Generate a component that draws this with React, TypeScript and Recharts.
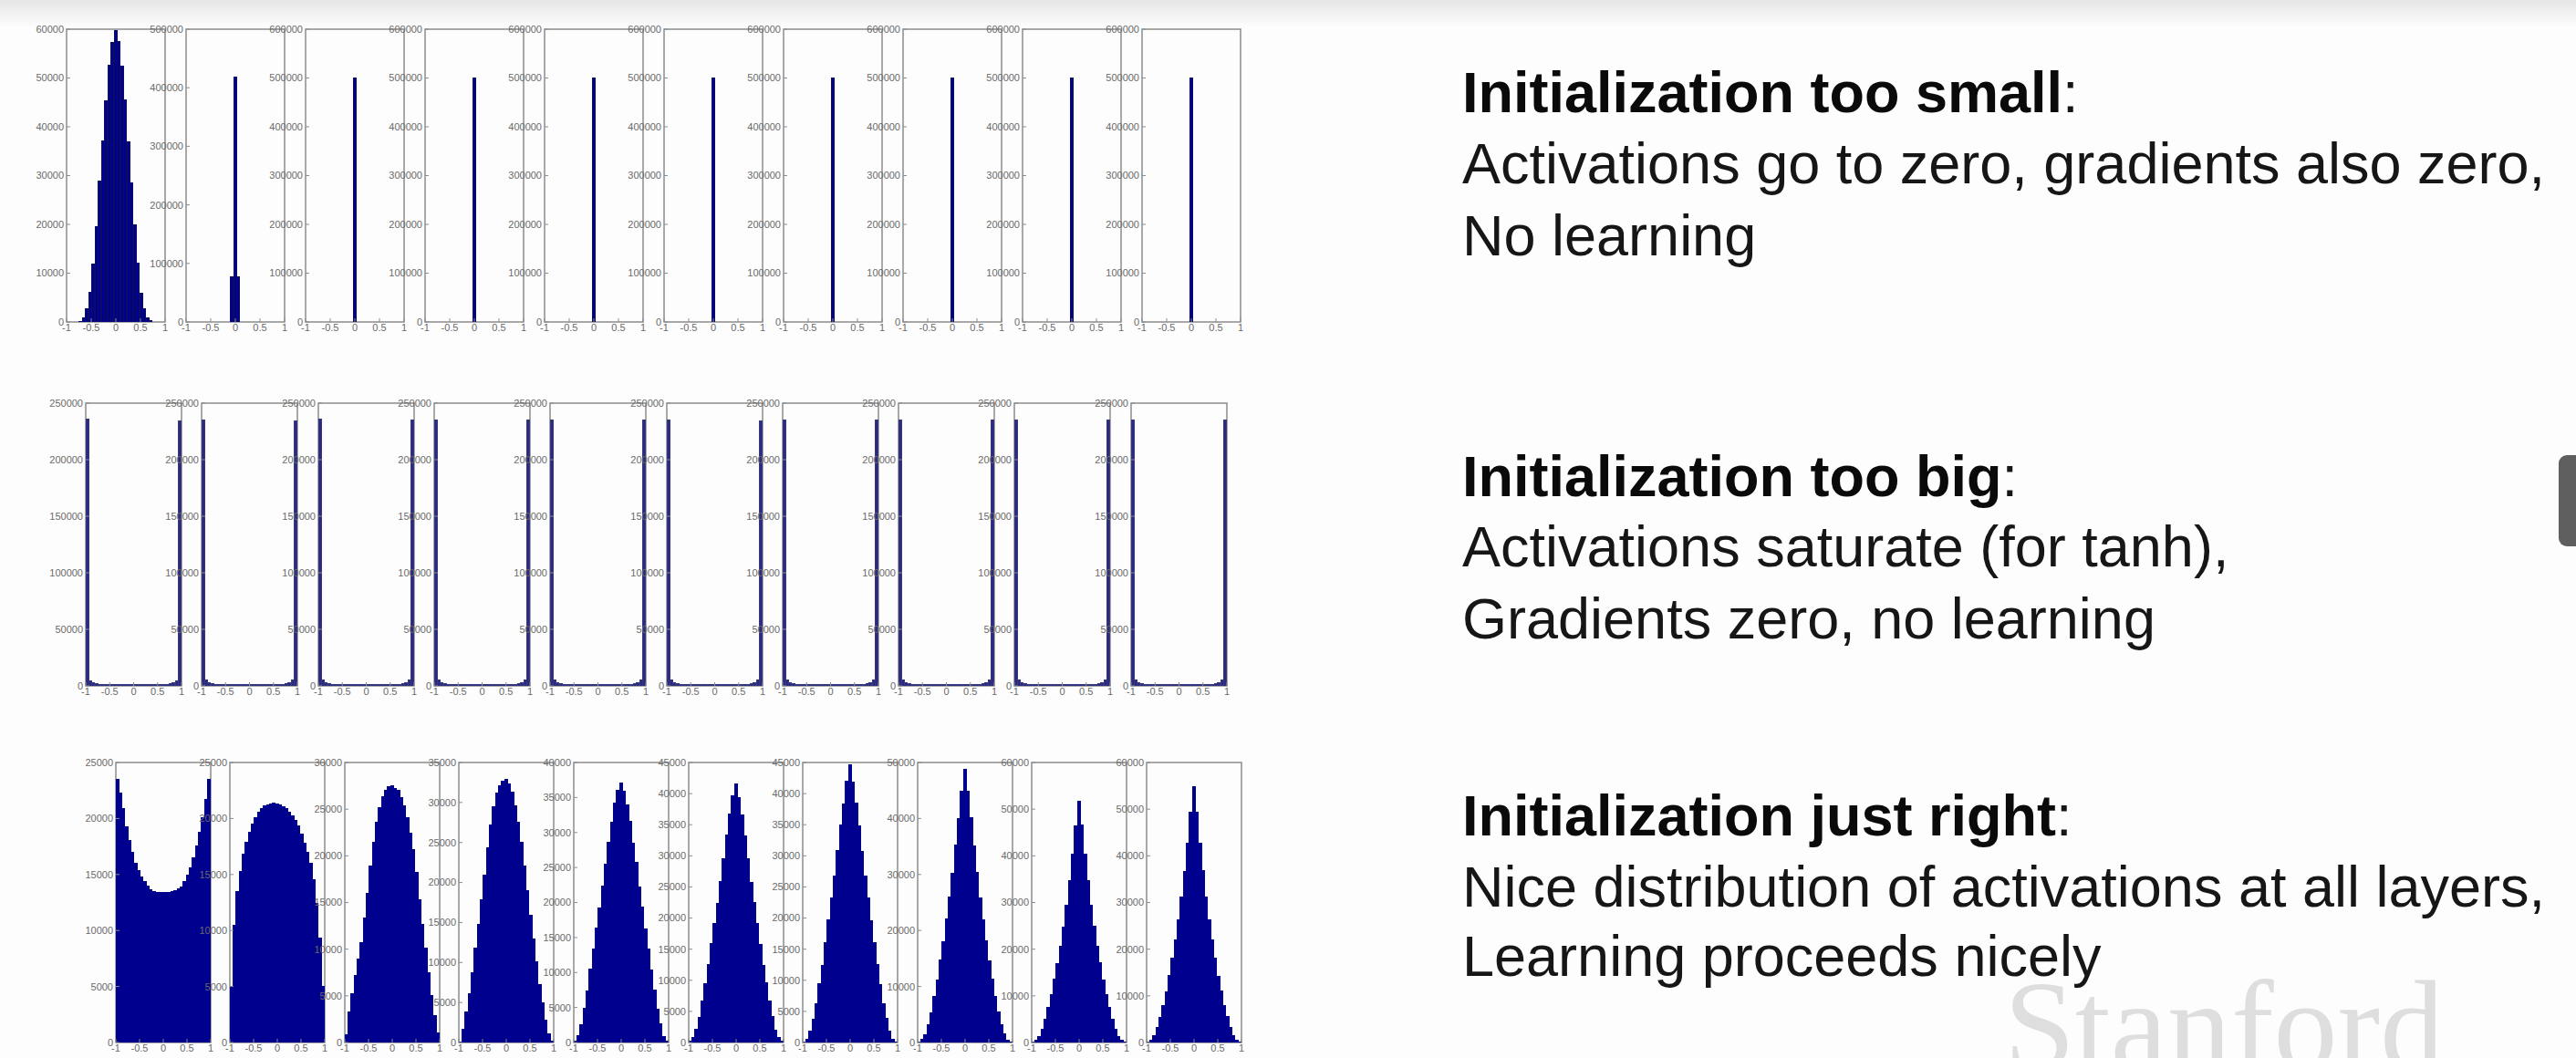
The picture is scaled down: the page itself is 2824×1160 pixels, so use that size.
import React from 'react';
import { BarChart, Bar, XAxis, YAxis, ReferenceArea } from 'recharts';

// 31 histogram bins over [-1, 1] (bin centres)
const BIN_CENTERS = [
  -0.9677, -0.9032, -0.8387, -0.7742, -0.7097, -0.6452, -0.5806, -0.5161, -0.4516, -0.3871, -0.3226,
  -0.2581, -0.1935, -0.129, -0.0645, 0, 0.0645, 0.129, 0.1935, 0.2581, 0.3226, 0.3871, 0.4516, 0.5161,
  0.5806, 0.6452, 0.7097, 0.7742, 0.8387, 0.9032, 0.9677,
];
const X_TICKS = [-1, -0.5, 0, 0.5, 1];

// ---------- y tick sets ----------
const T_60K = [0, 10000, 20000, 30000, 40000, 50000, 60000];
const T_500K = [0, 100000, 200000, 300000, 400000, 500000];
const T_600K = [0, 100000, 200000, 300000, 400000, 500000, 600000];
const T_250K = [0, 50000, 100000, 150000, 200000, 250000];
const T_25K = [0, 5000, 10000, 15000, 20000, 25000];
const T_30K = [0, 5000, 10000, 15000, 20000, 25000, 30000];
const T_35K = [0, 5000, 10000, 15000, 20000, 25000, 30000, 35000];
const T_40K = [0, 5000, 10000, 15000, 20000, 25000, 30000, 35000, 40000];
const T_45K = [0, 5000, 10000, 15000, 20000, 25000, 30000, 35000, 40000, 45000];
const T_50K = [0, 10000, 20000, 30000, 40000, 50000];
const T_60KB = [0, 10000, 20000, 30000, 40000, 50000, 60000];

// ---------- Row 1: initialization too small ----------
const R1_L1 = [0, 0, 0, 0, 170, 820, 2650, 6100, 11800, 19500, 28900, 37100, 45300, 52600, 57200, 59700, 57400, 52400, 45500, 36900, 28500, 19900, 12000, 5900, 2750, 860, 190, 0, 0, 0, 0];
const R1_L2 = [0, 0, 0, 0, 0, 0, 0, 0, 0, 0, 0, 0, 0, 0, 77000, 418000, 77000, 0, 0, 0, 0, 0, 0, 0, 0, 0, 0, 0, 0, 0, 0];
const R1_L3 = [0, 0, 0, 0, 0, 0, 0, 0, 0, 0, 0, 0, 0, 0, 0, 500000, 0, 0, 0, 0, 0, 0, 0, 0, 0, 0, 0, 0, 0, 0, 0];
const R1_L4 = [0, 0, 0, 0, 0, 0, 0, 0, 0, 0, 0, 0, 0, 0, 0, 500000, 0, 0, 0, 0, 0, 0, 0, 0, 0, 0, 0, 0, 0, 0, 0];
const R1_L5 = [0, 0, 0, 0, 0, 0, 0, 0, 0, 0, 0, 0, 0, 0, 0, 500000, 0, 0, 0, 0, 0, 0, 0, 0, 0, 0, 0, 0, 0, 0, 0];
const R1_L6 = [0, 0, 0, 0, 0, 0, 0, 0, 0, 0, 0, 0, 0, 0, 0, 500000, 0, 0, 0, 0, 0, 0, 0, 0, 0, 0, 0, 0, 0, 0, 0];
const R1_L7 = [0, 0, 0, 0, 0, 0, 0, 0, 0, 0, 0, 0, 0, 0, 0, 500000, 0, 0, 0, 0, 0, 0, 0, 0, 0, 0, 0, 0, 0, 0, 0];
const R1_L8 = [0, 0, 0, 0, 0, 0, 0, 0, 0, 0, 0, 0, 0, 0, 0, 500000, 0, 0, 0, 0, 0, 0, 0, 0, 0, 0, 0, 0, 0, 0, 0];
const R1_L9 = [0, 0, 0, 0, 0, 0, 0, 0, 0, 0, 0, 0, 0, 0, 0, 500000, 0, 0, 0, 0, 0, 0, 0, 0, 0, 0, 0, 0, 0, 0, 0];
const R1_L10 = [0, 0, 0, 0, 0, 0, 0, 0, 0, 0, 0, 0, 0, 0, 0, 500000, 0, 0, 0, 0, 0, 0, 0, 0, 0, 0, 0, 0, 0, 0, 0];

// ---------- Row 2: initialization too big (saturated) ----------
const R2_L1 = [236000, 4800, 2700, 1900, 1500, 1300, 1200, 1100, 1050, 1000, 980, 950, 930, 920, 910, 900, 910, 920, 930, 950, 980, 1000, 1050, 1100, 1200, 1300, 1500, 1900, 2700, 4800, 234000];
const R2_L2 = [235000, 5200, 2900, 2000, 1600, 1350, 1200, 1120, 1060, 1010, 980, 960, 940, 930, 920, 915, 920, 930, 940, 960, 980, 1010, 1060, 1120, 1200, 1350, 1600, 2000, 2900, 5200, 234500];
const R2_L3 = [235500, 5000, 2800, 1950, 1550, 1320, 1180, 1100, 1040, 1000, 970, 950, 930, 920, 910, 905, 910, 920, 930, 950, 970, 1000, 1040, 1100, 1180, 1320, 1550, 1950, 2800, 5000, 235000];
const R2_L4 = [235200, 5100, 2850, 1980, 1570, 1330, 1190, 1110, 1050, 1005, 975, 955, 935, 925, 915, 910, 915, 925, 935, 955, 975, 1005, 1050, 1110, 1190, 1330, 1570, 1980, 2850, 5100, 234800];
const R2_L5 = [234900, 5000, 2800, 1960, 1560, 1320, 1190, 1100, 1045, 1000, 970, 950, 930, 920, 910, 905, 910, 920, 930, 950, 970, 1000, 1045, 1100, 1190, 1320, 1560, 1960, 2800, 5000, 235300];
const R2_L6 = [235400, 5150, 2870, 1990, 1580, 1340, 1200, 1110, 1050, 1010, 980, 955, 935, 925, 915, 910, 915, 925, 935, 955, 980, 1010, 1050, 1110, 1200, 1340, 1580, 1990, 2870, 5150, 234600];
const R2_L7 = [235100, 5050, 2820, 1970, 1560, 1330, 1190, 1105, 1045, 1000, 972, 952, 932, 922, 912, 906, 912, 922, 932, 952, 972, 1000, 1045, 1105, 1190, 1330, 1560, 1970, 2820, 5050, 235000];
const R2_L8 = [234800, 5100, 2840, 1975, 1565, 1335, 1195, 1108, 1048, 1004, 974, 954, 934, 924, 914, 908, 914, 924, 934, 954, 974, 1004, 1048, 1108, 1195, 1335, 1565, 1975, 2840, 5100, 235200];
const R2_L9 = [235300, 5000, 2800, 1960, 1555, 1325, 1185, 1102, 1042, 1000, 970, 950, 930, 920, 910, 904, 910, 920, 930, 950, 970, 1000, 1042, 1102, 1185, 1325, 1555, 1960, 2800, 5000, 234900];
const R2_L10 = [235000, 5080, 2830, 1970, 1560, 1330, 1190, 1106, 1046, 1002, 972, 952, 932, 922, 912, 906, 912, 922, 932, 952, 972, 1002, 1046, 1106, 1190, 1330, 1560, 1970, 2830, 5080, 235100];

// ---------- Row 3: initialization just right ----------
const R3_L1 = [23500, 22280, 20920, 19290, 18070, 16980, 16030, 15350, 14810, 14400, 13990, 13670, 13480, 13400, 13370, 13370, 13370, 13400, 13480, 13590, 13720, 13910, 14400, 14950, 15630, 16520, 17530, 18750, 20110, 21740, 23500];
const R3_L2 = [5000, 10500, 13500, 15300, 16800, 17900, 18800, 19500, 20100, 20550, 20900, 21100, 21250, 21330, 21360, 21330, 21250, 21080, 20860, 20580, 20250, 19850, 19300, 18600, 17800, 17000, 16000, 14500, 12400, 9300, 5000];
const R3_L3 = [810, 3250, 5200, 7160, 8950, 10740, 13340, 15940, 18870, 21470, 23590, 25210, 26350, 27000, 27400, 27490, 27260, 27000, 26190, 25380, 24080, 22450, 20660, 18220, 15290, 12690, 10090, 7480, 5040, 2930, 980];
const R3_L4 = [80, 1710, 3800, 6070, 8730, 11770, 14800, 17840, 20880, 24290, 27140, 29420, 31130, 32080, 32650, 32840, 32270, 31320, 29610, 27520, 25050, 22020, 18980, 15940, 12910, 10060, 7210, 4930, 2850, 1140, 190];
const R3_L5 = [180, 950, 2550, 4900, 7350, 10450, 13300, 16400, 19200, 22300, 25500, 28600, 31500, 34200, 36000, 37100, 35900, 34000, 31600, 28500, 25700, 22200, 19300, 16200, 13400, 10300, 7500, 4750, 2650, 900, 200];
const R3_L6 = [160, 760, 2100, 4100, 6700, 9500, 12500, 15900, 19100, 22400, 25800, 29600, 33300, 36700, 39600, 41600, 39400, 36500, 33200, 29500, 25700, 22500, 19200, 15700, 12400, 9600, 6600, 4200, 2050, 740, 180];
const R3_L7 = [130, 550, 1800, 3750, 6300, 9400, 12450, 16100, 19700, 23200, 26800, 30800, 34900, 38300, 42000, 44650, 41900, 38500, 34800, 30700, 26800, 23300, 19600, 16000, 12500, 9350, 6250, 3850, 1780, 530, 140];
const R3_L8 = [100, 500, 1450, 3200, 5350, 8250, 11200, 14700, 18000, 22000, 25900, 30200, 35200, 40000, 44900, 48800, 44800, 40100, 35100, 30300, 25800, 21900, 18100, 14600, 11250, 8300, 5400, 3150, 1470, 480, 110];
const R3_L9 = [100, 420, 1300, 2850, 4900, 7450, 10300, 13500, 17000, 20700, 24800, 29500, 34600, 40300, 46500, 51700, 46600, 40300, 34700, 29400, 24900, 20600, 17100, 13400, 10350, 7500, 4900, 2830, 1300, 400, 100];
const R3_L10 = [110, 500, 1520, 3300, 5450, 7950, 10900, 14300, 18100, 21900, 26300, 31200, 36700, 42800, 49300, 54800, 49300, 42700, 36800, 31200, 26300, 21900, 18050, 14250, 10950, 7950, 5500, 3280, 1540, 480, 120];

const ROW1_SERIES = [R1_L1, R1_L2, R1_L3, R1_L4, R1_L5, R1_L6, R1_L7, R1_L8, R1_L9, R1_L10];
const ROW1_TICKS = [T_60K, T_500K, T_600K, T_600K, T_600K, T_600K, T_600K, T_600K, T_600K, T_600K];
const ROW2_SERIES = [R2_L1, R2_L2, R2_L3, R2_L4, R2_L5, R2_L6, R2_L7, R2_L8, R2_L9, R2_L10];
const ROW2_TICKS = [T_250K, T_250K, T_250K, T_250K, T_250K, T_250K, T_250K, T_250K, T_250K, T_250K];
const ROW3_SERIES = [R3_L1, R3_L2, R3_L3, R3_L4, R3_L5, R3_L6, R3_L7, R3_L8, R3_L9, R3_L10];
const ROW3_TICKS = [T_25K, T_25K, T_30K, T_35K, T_40K, T_45K, T_45K, T_50K, T_60KB, T_60KB];

const NOTES = [
  { bold: 'Initialization too small', rest: ':', y: 123 },
  { bold: '', rest: 'Activations go to zero, gradients also zero,', y: 201 },
  { bold: '', rest: 'No learning', y: 280 },
  { bold: 'Initialization too big', rest: ':', y: 544 },
  { bold: '', rest: 'Activations saturate (for tanh),', y: 621 },
  { bold: '', rest: 'Gradients zero, no learning', y: 700 },
  { bold: 'Initialization just right', rest: ':', y: 916 },
  { bold: '', rest: 'Nice distribution of activations at all layers,', y: 994 },
  { bold: '', rest: 'Learning proceeds nicely', y: 1070 },
];

// ---------- layout ----------
const ROWS = [
  { top: 32, height: 321, left0: 73, pitch: 131, width: 108, fill: '#00008F', stroke: '#0c0c62', series: ROW1_SERIES, ticks: ROW1_TICKS },
  { top: 442, height: 310, left0: 94, pitch: 127.3, width: 105, fill: '#2a2a7e', stroke: '#383882', series: ROW2_SERIES, ticks: ROW2_TICKS },
  { top: 836, height: 307, left0: 126.5, pitch: 125.6, width: 104, fill: '#00008F', stroke: '#00008F', series: ROW3_SERIES, ticks: ROW3_TICKS },
];

const LW = 46;
const BH = 16;
const TOPPAD = 10;
const RIGHTPAD = 10;
const AXIS_GRAY = '#8c8c8c';
const TICK_STYLE = { fontSize: 11, fill: '#6a6a6a', fontFamily: 'Liberation Sans, Arial, sans-serif' };

function Hist(props: { left: number; top: number; w: number; h: number; values: number[]; yTicks: number[]; fill: string; stroke: string }) {
  const { left, top, w, h, values, yTicks, fill, stroke } = props;
  const data = BIN_CENTERS.map((x, i) => ({ x, v: values[i] }));
  const yMax = yTicks[yTicks.length - 1];
  return (
    <div style={{ position: 'absolute', left: left - LW, top: top - TOPPAD }}>
      <BarChart
        width={w + LW + RIGHTPAD}
        height={h + TOPPAD + BH}
        data={data}
        margin={{ top: TOPPAD, right: RIGHTPAD, left: 0, bottom: 0 }}
        barCategoryGap={0}
        barGap={0}
      >
        <XAxis
          dataKey="x"
          type="number"
          domain={[-1, 1]}
          allowDataOverflow
          ticks={X_TICKS}
          interval={0}
          height={BH}
          tick={TICK_STYLE}
          axisLine={false}
          tickLine={{ stroke: AXIS_GRAY }}
          tickSize={-4}
          tickMargin={6}
        />
        <YAxis
          type="number"
          domain={[0, yMax]}
          allowDataOverflow
          ticks={yTicks}
          interval={0}
          width={LW}
          tick={TICK_STYLE}
          axisLine={false}
          tickLine={{ stroke: AXIS_GRAY }}
          tickSize={-4}
          tickMargin={7}
        />
        <Bar dataKey="v" fill={fill} stroke={stroke} strokeWidth={1} isAnimationActive={false} />
        <ReferenceArea x1={-1} x2={1} y1={0} y2={yMax} fill="none" fillOpacity={0} stroke={AXIS_GRAY} strokeWidth={1.5} />
      </BarChart>
    </div>
  );
}

const CSS = '.recharts-bar-rectangle path, .recharts-bar-rectangle .recharts-rectangle { shape-rendering: crispEdges; }';

export default function App() {
  return (
    <div style={{ position: 'absolute', left: 0, top: 0, width: 2824, height: 1160, overflow: 'hidden', background: '#fdfdfd' }}>
      <style>{CSS}</style>
      <div style={{ position: 'absolute', left: 0, top: 0, width: 2824, height: 30, background: 'linear-gradient(#e6e6e6, #fdfdfd)' }} />
      {ROWS.map((row, r) =>
        row.series.map((vals, i) => (
          <Hist
            key={`${r}-${i}`}
            left={Math.round(row.left0 + row.pitch * i)}
            top={row.top}
            w={row.width}
            h={row.height}
            values={vals}
            yTicks={row.ticks[i]}
            fill={row.fill}
            stroke={row.stroke}
          />
        ))
      )}
      <svg style={{ position: 'absolute', left: 0, top: 0, pointerEvents: 'none' }} width={2824} height={1160}>
        <text x={2197} y={1172} fontFamily="Liberation Serif, Times New Roman, serif" fontSize={140} fill="#dedede">
          Stanford
        </text>
        {NOTES.map((n, i) => (
          <text key={i} x={1603} y={n.y} fontFamily="Liberation Sans, Arial, Helvetica, sans-serif" fontSize={63} fill="#161616">
            {n.bold ? <tspan fontWeight="bold" fill="#0a0a0a">{n.bold}</tspan> : null}
            <tspan>{n.rest}</tspan>
          </text>
        ))}
      </svg>
      <div style={{ position: 'absolute', left: 2805, top: 499, width: 30, height: 100, background: '#5f5f5f', borderRadius: 9 }} />
    </div>
  );
}
